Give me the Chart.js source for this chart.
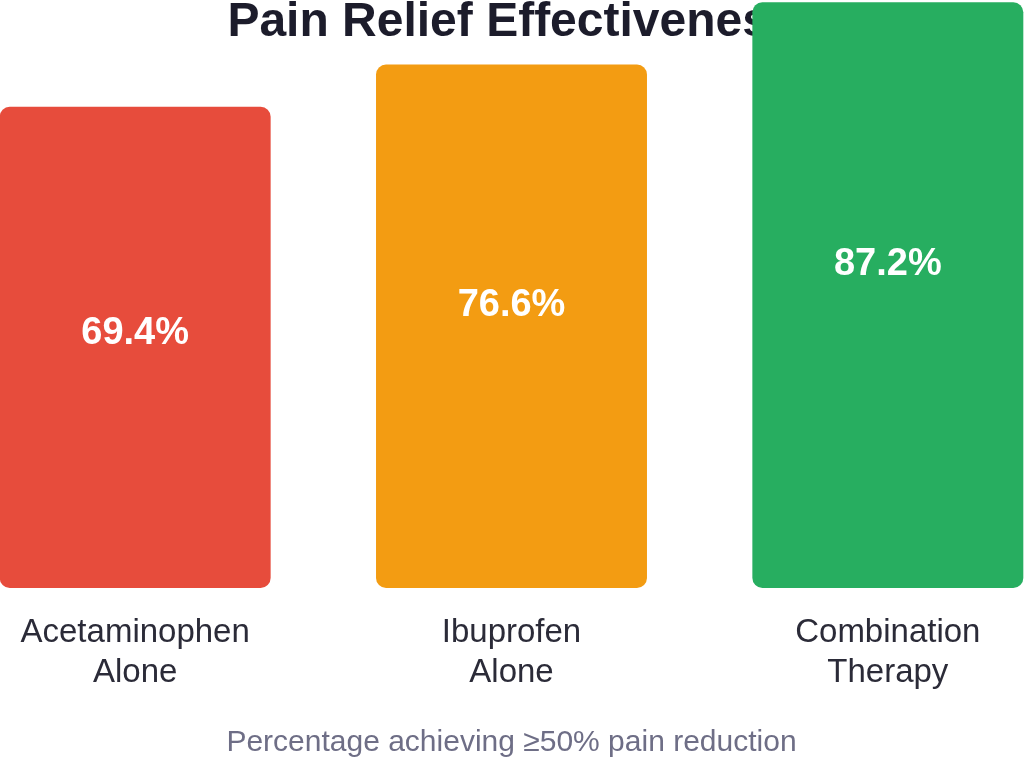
<!DOCTYPE html>
<html>
<head>
<meta charset="utf-8">
<script src="https://cdn.jsdelivr.net/npm/chart.js@4"></script>
<style>
  html, body { margin: 0; padding: 0; background: #fff; overflow: hidden; }
  #wrap { position: absolute; left: -53px; top: 0; width: 1129px; height: 759px; }
</style>
</head>
<body>
<div id="wrap"><canvas id="myChart"></canvas></div>
<script>
const categories = [['Acetaminophen', 'Alone'], ['Ibuprofen', 'Alone'], ['Combination', 'Therapy']];
const relief = [69.4, 76.6, 87.2];
const barColors = ['#e74c3c', '#f39c12', '#27ae60'];
const titleText = 'Pain Relief Effectiveness';
const noteText = 'Percentage achieving \u226550% pain reduction';
const fontFamily = '"Liberation Sans", Arial, sans-serif';

const yMin = -12.6;
const yMax = 87.6;

// title is painted before the bars so the tall bar covers it
const titlePlugin = {
  id: 'titleBehind',
  beforeDatasetsDraw(chart) {
    const c = chart.ctx;
    c.save();
    c.font = 'bold 48px ' + fontFamily;
    c.fillStyle = '#1c1c2b';
    c.textAlign = 'center';
    c.textBaseline = 'alphabetic';
    c.fillText(titleText, chart.width / 2, 36);
    c.restore();
  }
};

const valuePlugin = {
  id: 'valueLabels',
  afterDatasetsDraw(chart) {
    const c = chart.ctx;
    const meta = chart.getDatasetMeta(0);
    const size = 38;
    c.save();
    c.font = 'bold ' + size + 'px ' + fontFamily;
    c.fillStyle = '#ffffff';
    c.textAlign = 'center';
    c.textBaseline = 'alphabetic';
    meta.data.forEach((bar, i) => {
      const h = bar.base - bar.y;
      const mid = bar.y + 61.6 + 0.337 * h;
      c.fillText(relief[i].toFixed(1) + '%', bar.x, mid + 0.358 * size);
    });
    c.restore();
  }
};

const notePlugin = {
  id: 'note',
  afterDraw(chart) {
    const c = chart.ctx;
    c.save();
    c.font = '30px ' + fontFamily;
    c.fillStyle = '#6e6e86';
    c.textAlign = 'center';
    c.textBaseline = 'middle';
    c.fillText(noteText, chart.width / 2, 743);
    c.restore();
  }
};

const ctx = document.getElementById('myChart');
new Chart(ctx, {
  type: 'bar',
  data: {
    labels: categories,
    datasets: [{
      data: relief,
      backgroundColor: barColors,
      borderRadius: 10,
      borderSkipped: false,
      base: yMin,
      barPercentage: 0.72,
      categoryPercentage: 1,
    }]
  },
  options: {
    responsive: true,
    maintainAspectRatio: false,
    animation: false,
    layout: { padding: 0 },
    plugins: {
      legend: { display: false },
      title: { display: false },
      tooltip: { enabled: false }
    },
    scales: {
      x: {
        grid: { display: false, drawTicks: false },
        border: { display: false },
        ticks: {
          padding: 25,
          color: '#2b2b38',
          font: { family: fontFamily, size: 33, lineHeight: 1.22 }
        },
        afterFit(axis) { axis.height = 171; }
      },
      y: {
        display: false,
        min: yMin,
        max: yMax
      }
    }
  },
  plugins: [titlePlugin, valuePlugin, notePlugin]
});
</script>
</body>
</html>
